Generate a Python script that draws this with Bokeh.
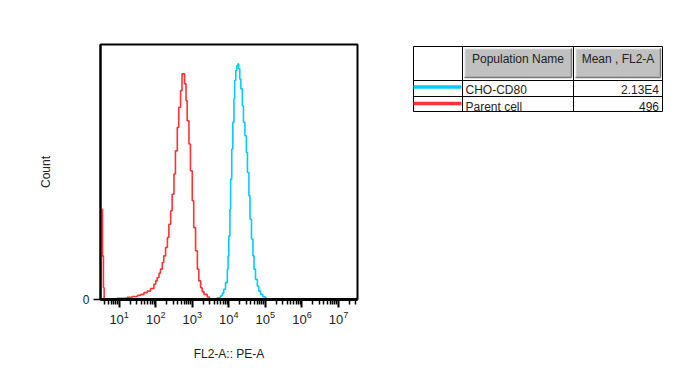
import numpy as np
from bokeh.plotting import figure
from bokeh.layouts import row
from bokeh.models import Range1d, FixedTicker, LogTickFormatter
from bokeh.core.properties import value
from bokeh.embed import file_html
from bokeh.resources import INLINE

FONT = "Liberation Sans"

# ---------------- data ----------------
# histogram bin starts, in log10(FL2-A) units, and counts (arbitrary units, axis max = 100)
parent_log10 = [0.40, 0.51, 0.545, 0.57, 0.59, 0.95, 1.22, 1.36, 1.50, 1.59, 1.68, 1.77,
                1.86, 1.95, 2.00, 2.04, 2.09, 2.13, 2.18, 2.22, 2.27, 2.32, 2.36, 2.41,
                2.45, 2.50, 2.54, 2.59, 2.63, 2.68, 2.72, 2.75, 2.79, 2.83, 2.86, 2.91,
                2.95, 3.00, 3.04, 3.09, 3.14, 3.18, 3.23, 3.27, 3.32, 3.41, 3.47, 3.52, 7.60]
parent_count = [0, 35.4, 17.1, 4.6, 0, 0.5, 0.9, 1.2, 1.6, 2.0, 2.7, 3.3,
                4.3, 6.0, 7.3, 8.6, 10.3, 11.9, 14.5, 17.1, 20.4, 24.3, 29.5, 34.8,
                41.3, 49.2, 58.3, 67.5, 75.4, 81.9, 88.5, 88.5, 84.6, 78.0, 70.1, 61.0,
                50.5, 38.7, 28.2, 19.1, 11.9, 7.3, 4.6, 3.1, 2.0, 1.0, 0.3, 0, 0]

cd80_log10 = [0.60, 3.64, 3.68, 3.77, 3.82, 3.86, 3.91, 3.96, 3.98, 4.00, 4.03, 4.05,
              4.08, 4.11, 4.14, 4.16, 4.19, 4.22, 4.25, 4.27, 4.30, 4.33, 4.37, 4.40,
              4.44, 4.48, 4.51, 4.55, 4.58, 4.62, 4.66, 4.69, 4.73, 4.78, 4.82, 4.87,
              4.93, 5.00, 5.05, 7.60]
cd80_count = [0, 0, 0.7, 1.4, 2.4, 4.0, 6.6, 11.9, 17.1, 24.9, 35.4, 47.2,
              59.0, 69.5, 78.7, 85.9, 89.8, 91.7, 92.4, 90.5, 86.5, 82.6, 76.0, 69.5,
              64.2, 57.7, 49.8, 40.7, 31.5, 23.7, 17.1, 11.9, 7.9, 5.3, 3.3, 2.0,
              1.1, 0.5, 0, 0]

decade_exponents = [1, 2, 3, 4, 5, 6, 7]
y_ticks = [0]
x_title = "FL2-A:: PE-A"
y_title = "Count"

header_labels = ["Population Name", "Mean , FL2-A"]
population_names = ["CHO-CD80", "Parent cell"]
population_means = ["2.13E4", "496"]
population_colors = ["#00CCFF", "#FF3333"]

# ---------------- main histogram ----------------
p = figure(width=388, height=374, x_axis_type="log",
           x_range=Range1d(10 ** 0.49, 10 ** 7.52), y_range=Range1d(0, 100),
           output_backend="svg", toolbar_location=None,
           min_border_left=100, min_border_right=31, min_border_top=44, min_border_bottom=75)
p.outline_line_color = "black"
p.outline_line_width = 2
p.grid.visible = False
p.background_fill_color = "white"
p.border_fill_color = "white"

p.step(10 ** np.array(parent_log10), parent_count, mode="after",
       line_color=population_colors[1], line_width=1.6)
p.step(10 ** np.array(cd80_log10), cd80_count, mode="after",
       line_color=population_colors[0], line_width=1.6)

xa = p.xaxis[0]
xa.ticker = FixedTicker(ticks=[10.0 ** e for e in decade_exponents],
                        minor_ticks=[k * 10.0 ** e for e in range(0, 8) for k in range(2, 10)])
xa.formatter = LogTickFormatter()
xa.axis_line_width = 3
xa.axis_line_color = "black"
xa.major_tick_in = 0
xa.major_tick_out = 8
xa.major_tick_line_width = 2
xa.minor_tick_in = 0
xa.minor_tick_out = 5
xa.minor_tick_line_width = 1.5
xa.major_label_text_font = FONT
xa.major_label_text_font_size = "13px"
xa.major_label_text_color = "#222222"
xa.major_label_standoff = 3
xa.axis_label = x_title
xa.axis_label_text_font = FONT
xa.axis_label_text_font_size = "12px"
xa.axis_label_text_font_style = "normal"
xa.axis_label_text_color = "#222222"
xa.axis_label_standoff = 20

ya = p.yaxis[0]
ya.ticker = FixedTicker(ticks=y_ticks)
ya.axis_line_width = 2
ya.axis_line_color = "black"
ya.major_tick_in = 0
ya.major_tick_out = 7
ya.major_tick_line_width = 1.5
ya.minor_tick_line_color = None
ya.major_label_text_font = FONT
ya.major_label_text_font_size = "12px"
ya.major_label_text_color = "#222222"
ya.major_label_standoff = 4
ya.axis_label = y_title
ya.axis_label_text_font = FONT
ya.axis_label_text_font_size = "12px"
ya.axis_label_text_font_style = "normal"
ya.axis_label_text_color = "#222222"
ya.axis_label_standoff = 27

# ---------------- legend table (coordinates = page pixels) ----------------
t = figure(width=292, height=374, x_range=Range1d(388, 680), y_range=Range1d(299, 44),
           output_backend="svg", toolbar_location=None,
           x_axis_location=None, y_axis_location=None,
           min_border_left=0, min_border_right=0, min_border_top=44, min_border_bottom=75)
t.outline_line_color = None
t.grid.visible = False
t.background_fill_color = "white"
t.border_fill_color = "white"

col_x = [413, 462, 573, 662]
row_y = [46, 80, 96, 111]

# header cells (bevelled gray)
hx0 = [col_x[1] + 2, col_x[2] + 2]
hx1 = [col_x[2] - 2, col_x[3] - 2]
hy0, hy1 = row_y[0] + 2, row_y[1] - 3
t.quad(left=hx0, right=hx1, top=[hy0] * 2, bottom=[hy1] * 2,
       fill_color="#C0C0C0", line_color=None)
for a, b in zip(hx0, hx1):
    t.segment(x0=[a, a], y0=[hy0, hy0], x1=[b, a], y1=[hy0, hy1], line_color="#EEEEEE", line_width=1.5)
    t.segment(x0=[a, b], y0=[hy1, hy0], x1=[b, b], y1=[hy1, hy1], line_color="#7A7A7A", line_width=1.5)

# grid
t.segment(x0=[col_x[0]] * 4, x1=[col_x[-1]] * 4, y0=row_y, y1=row_y, line_color="black", line_width=1)
t.segment(x0=col_x, x1=col_x, y0=[row_y[0]] * 4, y1=[row_y[-1]] * 4, line_color="black", line_width=1)

# header texts
t.text(x=[(hx0[0] + hx1[0]) / 2, (hx0[1] + hx1[1]) / 2], y=[58.0, 58.0], text=header_labels,
       text_font=value(FONT), text_font_size="12px", text_align="center",
       text_baseline="alphabetic", text_color="#222222")

# rows
row_base = [89.8, 106.0]
row_mid = [86.5, 103.0]
t.segment(x0=[col_x[0]] * 2, x1=[col_x[1] - 1] * 2, y0=row_mid, y1=row_mid,
          line_color=population_colors, line_width=3.5, line_cap="butt")
t.text(x=[col_x[1] + 3] * 2, y=row_base, text=population_names,
       text_font=value(FONT), text_font_size="12px", text_align="left",
       text_baseline="alphabetic", text_color="#222222")
t.text(x=[col_x[3] - 3.5] * 2, y=row_base, text=population_means,
       text_font=value(FONT), text_font_size="12px", text_align="right",
       text_baseline="alphabetic", text_color="#222222")

layout = row(p, t)
open("out.html", "w").write(file_html(layout, INLINE))
